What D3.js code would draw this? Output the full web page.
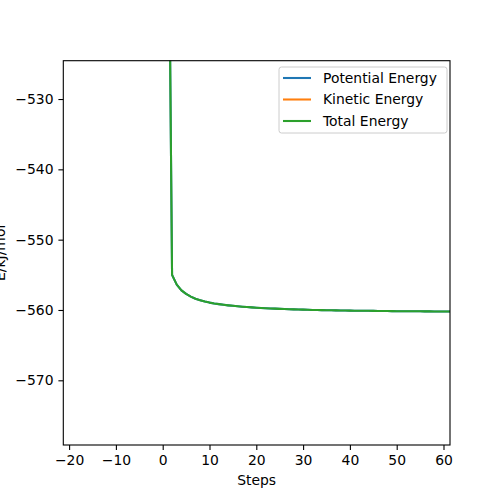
<!DOCTYPE html>
<html>
<head>
<meta charset="utf-8">
<script src="https://cdn.jsdelivr.net/npm/d3@7"></script>
<style>
body{margin:0;background:#fff;}
text{font-family:"DejaVu Sans",sans-serif;}
</style>
</head>
<body>
<div id="chart"></div>
<script>
// energy per minimisation step (kJ/mol)
var steps=[1,2,3,4,5,6,7,8,9,10,11,12,13,14,15,16,17,18,19,20,21,22,23,24,25,26,27,28,29,30,
    31,32,33,34,35,36,37,38,39,40,41,42,43,44,45,46,47,48,49,50,51,52,53,54,55,56,57,58,59,60,61,62];
var potentialEnergy=[-480,-555.0,-556.4,-557.2,-557.7,-558.1,-558.4,-558.6,-558.8,-558.95,
    -559.07,-559.17,-559.26,-559.34,-559.41,-559.47,-559.53,-559.58,-559.63,-559.67,
    -559.71,-559.75,-559.78,-559.81,-559.84,-559.87,-559.89,-559.91,-559.93,-559.95,
    -559.97,-559.99,-560.00,-560.02,-560.03,-560.04,-560.06,-560.07,-560.08,-560.09,
    -560.10,-560.11,-560.12,-560.12,-560.13,-560.14,-560.15,-560.15,-560.16,-560.17,
    -560.17,-560.18,-560.18,-560.19,-560.19,-560.20,-560.20,-560.21,-560.21,-560.22,
    -560.22,-560.23];
var kineticEnergy=[0,0,0,0,0,0,0,0,0,0,0,0,0,0,0,0,0,0,0,0,0,0,0,0,0,0,0,0,0,0,
    0,0,0,0,0,0,0,0,0,0,0,0,0,0,0,0,0,0,0,0,0,0,0,0,0,0,0,0,0,0,0,0];
var totalEnergy=[-480,-555.0,-556.4,-557.2,-557.7,-558.1,-558.4,-558.6,-558.8,-558.95,
    -559.07,-559.17,-559.26,-559.34,-559.41,-559.47,-559.53,-559.58,-559.63,-559.67,
    -559.71,-559.75,-559.78,-559.81,-559.84,-559.87,-559.89,-559.91,-559.93,-559.95,
    -559.97,-559.99,-560.00,-560.02,-560.03,-560.04,-560.06,-560.07,-560.08,-560.09,
    -560.10,-560.11,-560.12,-560.12,-560.13,-560.14,-560.15,-560.15,-560.16,-560.17,
    -560.17,-560.18,-560.18,-560.19,-560.19,-560.20,-560.20,-560.21,-560.21,-560.22,
    -560.22,-560.23];
var xTicks=[-20,-10,0,10,20,30,40,50,60];
var yTicks=[-530,-540,-550,-560,-570];

var series=[
    {name:"Potential Energy",color:"#1f77b4",values:potentialEnergy},
    {name:"Kinetic Energy",color:"#ff7f0e",values:kineticEnergy},
    {name:"Total Energy",color:"#2ca02c",values:totalEnergy}
];

var W=500,H=500;
var mLeft=63.3,mRight=450,mTop=60.7,mBottom=445;
var fontSize="13.9px";

var svg=d3.select("#chart").append("svg").attr("width",W).attr("height",H);

var x=d3.scaleLinear().domain([-21.24,61.39]).range([mLeft,mRight]);
var y=d3.scaleLinear().domain([-579.2,-524.55]).range([mBottom,mTop]);

svg.append("defs").append("clipPath").attr("id","plotclip")
    .append("rect").attr("x",mLeft).attr("y",mTop).attr("width",mRight-mLeft).attr("height",mBottom-mTop);

var line=d3.line()
    .x(function(d){return x(d[0]);})
    .y(function(d){return y(d[1]);});

svg.append("g").attr("clip-path","url(#plotclip)")
    .selectAll("path").data(series).enter().append("path")
    .attr("d",function(d){
        return line(steps.map(function(s,i){return [s,d.values[i]];}));
    })
    .attr("fill","none")
    .attr("stroke",function(d){return d.color;})
    .attr("stroke-width",2.08)
    .attr("stroke-linejoin","round");

// axes
var fmt=function(d){return d<0?"\u2212"+Math.abs(d):d;};
var xAxis=d3.axisBottom(x).tickValues(xTicks).tickSize(4.9).tickPadding(4.9).tickFormat(fmt);
var yAxis=d3.axisLeft(y).tickValues(yTicks).tickSize(4.9).tickPadding(4.9).tickFormat(fmt);

var gx=svg.append("g").attr("transform","translate(0,"+mBottom+")").call(xAxis);
var gy=svg.append("g").attr("transform","translate("+mLeft+",0)").call(yAxis);
[gx,gy].forEach(function(g){
    g.select(".domain").remove();
    g.selectAll(".tick line").attr("stroke","#000").attr("stroke-width",1.1);
    g.selectAll(".tick text").attr("fill","#000").style("font-size",fontSize)
        .style("font-family","'DejaVu Sans',sans-serif");
});

// frame
svg.append("rect").attr("x",mLeft).attr("y",mTop).attr("width",mRight-mLeft).attr("height",mBottom-mTop)
    .attr("fill","none").attr("stroke","#000").attr("stroke-width",1.1);

svg.append("text").attr("x",(mLeft+mRight)/2).attr("y",485).attr("text-anchor","middle")
    .style("font-size",fontSize).text("Steps");
// y label sits partly off the left edge, as in the original figure
svg.append("text").attr("transform","translate(4.5,"+((mTop+mBottom)/2)+") rotate(-90)")
    .attr("text-anchor","middle").style("font-size",fontSize).text("E/kJ/mol");

// legend
var lg=svg.append("g");
lg.append("rect").attr("x",279).attr("y",67).attr("width",168).attr("height",66)
    .attr("rx",2.5).attr("fill","#fff").attr("fill-opacity",0.8)
    .attr("stroke","#cccccc").attr("stroke-width",1);
var items=lg.selectAll("g.item").data(series).enter().append("g").attr("class","item")
    .attr("transform",function(d,i){return "translate(0,"+(78+i*21.5)+")";});
items.append("line").attr("x1",283).attr("x2",311).attr("y1",0).attr("y2",0)
    .attr("stroke",function(d){return d.color;}).attr("stroke-width",2.08);
items.append("text").attr("x",323).attr("y",4.9).style("font-size",fontSize)
    .text(function(d){return d.name;});
</script>
</body>
</html>
